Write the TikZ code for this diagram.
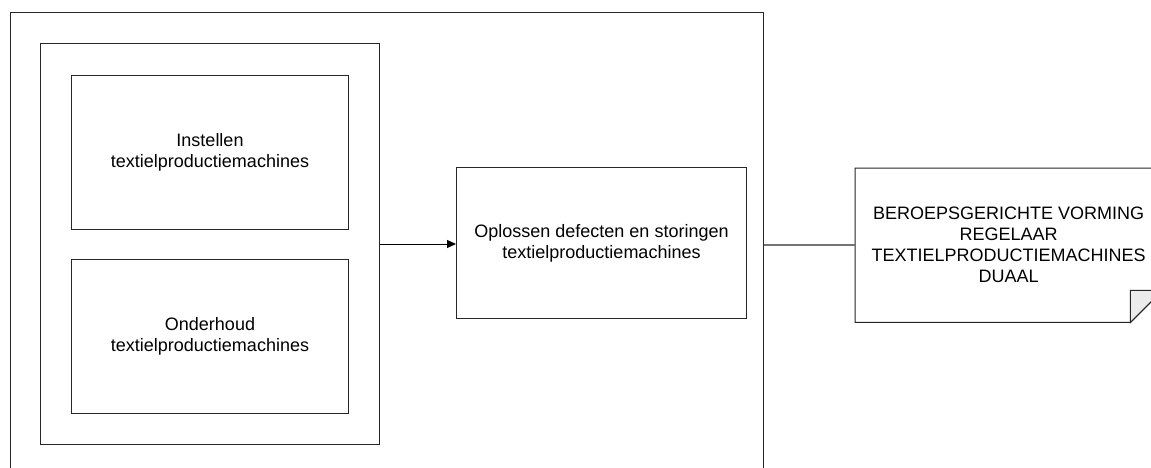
\documentclass[tikz,border=0pt]{standalone}
\usepackage{fontspec}
\setmainfont{Liberation Sans}
\usetikzlibrary{arrows.meta,calc}
\begin{document}
\begin{tikzpicture}[x=1pt,y=-1pt,
  box/.style={draw=black!85, line width=1pt, inner sep=0pt, anchor=north west},
  lbl/.style={font=\fontsize{18}{21}\selectfont, align=center},
  biglbl/.style={font=\fontsize{18}{21}\selectfont, align=center}]
\useasboundingbox (0,0) rectangle (1151,468);
\fill[white] (0,0) rectangle (1151,468);
% outer container
\node[box, minimum width=753pt, minimum height=490pt] (outer) at (10,12) {};
% inner container
\node[box, minimum width=339pt, minimum height=401pt] (inner) at (40,43) {};
% inner boxes
\node[box, minimum width=277pt, minimum height=154pt, lbl] (instellen) at (71,75) {Instellen\\textielproductiemachines};
\node[box, minimum width=277pt, minimum height=154pt, lbl] (onderhoud) at (71,259) {Onderhoud\\textielproductiemachines};
% center box
\node[box, minimum width=290pt, minimum height=151pt, lbl] (oplossen) at (456,167) {Oplossen defecten en storingen\\textielproductiemachines};
% note
\node[inner sep=0pt, minimum width=307pt, minimum height=154pt, anchor=north west, biglbl] (note) at (855,168) {BEROEPSGERICHTE VORMING\\REGELAAR\\TEXTIELPRODUCTIEMACHINES\\DUAAL};
\draw[black!85, line width=1pt] (note.north west) -- (note.north east) -- ($(note.south east)+(0,-32)$) -- ($(note.south east)+(-32,0)$) -- (note.south west) -- cycle;
\draw[black!85, line width=1pt, fill=black!8] ($(note.south east)+(-32,0)$) -- ($(note.south east)+(-32,-32)$) -- ($(note.south east)+(0,-32)$) -- cycle;
% connectors
\draw[black, line width=1pt, -{Triangle[length=9pt,width=8pt]}] (inner.east) -- (inner.east -| oplossen.west);
\draw[black!55, line width=2pt] (outer.east |- note.west) -- (note.west);
\end{tikzpicture}
\end{document}
